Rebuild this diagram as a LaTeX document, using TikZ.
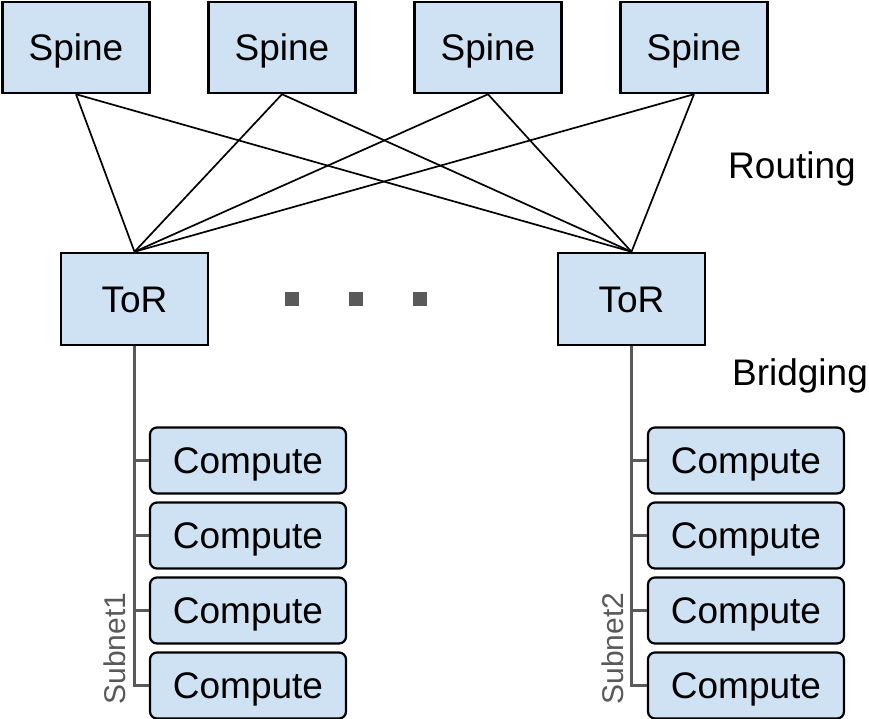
\documentclass[tikz,border=0pt]{standalone}
\usepackage{fontspec}
\setmainfont{Liberation Sans}
\begin{document}
\begin{tikzpicture}[x=1pt,y=-1pt,
  box/.style={draw=black,line width=2.5pt,fill=boxblue,inner sep=0pt},
  spinebox/.style={box,minimum width=147pt,minimum height=91pt},
  torbox/.style={box,minimum width=147pt,minimum height=92pt},
  compbox/.style={box,line width=2.2pt,rounded corners=7pt,minimum width=196pt,minimum height=66pt},
  lbl/.style={font=\fontsize{37}{40}\selectfont,text height=26.5pt,text depth=0pt},
  link/.style={line width=1.7pt,black},
  bus/.style={line width=2.2pt,busgray},
  dot/.style={fill=dotgray,minimum size=14pt,inner sep=0pt}]
\definecolor{boxblue}{HTML}{CFE2F3}
\definecolor{busgray}{HTML}{595959}
\definecolor{dotgray}{HTML}{595959}
\useasboundingbox (0,0) rectangle (869,719);
% spines
\node[spinebox,lbl] (s1) at (76,47.5) {Spine};
\node[spinebox,lbl] (s2) at (282,47.5) {Spine};
\node[spinebox,lbl] (s3) at (488,47.5) {Spine};
\node[spinebox,lbl] (s4) at (694,47.5) {Spine};
% ToRs
\node[torbox,lbl] (t1) at (134.5,299) {ToR};
\node[torbox,lbl] (t2) at (631.5,299) {ToR};
% links
\foreach \s in {s1,s2,s3,s4}{
  \draw[link] (\s.south) -- (t1.north);
  \draw[link] (\s.south) -- (t2.north);
}
% dots
\node[dot] (d1) at (292,299) {};
\node[dot] (d2) at (356,299) {};
\node[dot] (d3) at (420,299) {};
% labels
\node[lbl] (routing) at (792,165) {Routing};
\node[lbl] (bridging) at (800,372) {Bridging};
% compute left
\node[compbox,lbl] (c11) at (248,460.5) {Compute};
\node[compbox,lbl] (c12) at (248,535.5) {Compute};
\node[compbox,lbl] (c13) at (248,610.5) {Compute};
\node[compbox,lbl] (c14) at (248,685.5) {Compute};
% compute right
\node[compbox,lbl] (c21) at (746,460.5) {Compute};
\node[compbox,lbl] (c22) at (746,535.5) {Compute};
\node[compbox,lbl] (c23) at (746,610.5) {Compute};
\node[compbox,lbl] (c24) at (746,685.5) {Compute};
% buses
\draw[bus] (t1.south) |- (c14.west);
\draw[bus] (t1.south |- c11.west) -- (c11.west);
\draw[bus] (t1.south |- c12.west) -- (c12.west);
\draw[bus] (t1.south |- c13.west) -- (c13.west);
\draw[bus] (t2.south) |- (c24.west);
\draw[bus] (t2.south |- c21.west) -- (c21.west);
\draw[bus] (t2.south |- c22.west) -- (c22.west);
\draw[bus] (t2.south |- c23.west) -- (c23.west);
% subnet labels
\node[rotate=90,text=busgray,font=\fontsize{30}{32}\selectfont,text height=21.5pt,text depth=0pt] (sub1) at (115,648.5) {Subnet1};
\node[rotate=90,text=busgray,font=\fontsize{30}{32}\selectfont,text height=21.5pt,text depth=0pt] (sub2) at (613,648.5) {Subnet2};
\end{tikzpicture}
\end{document}
